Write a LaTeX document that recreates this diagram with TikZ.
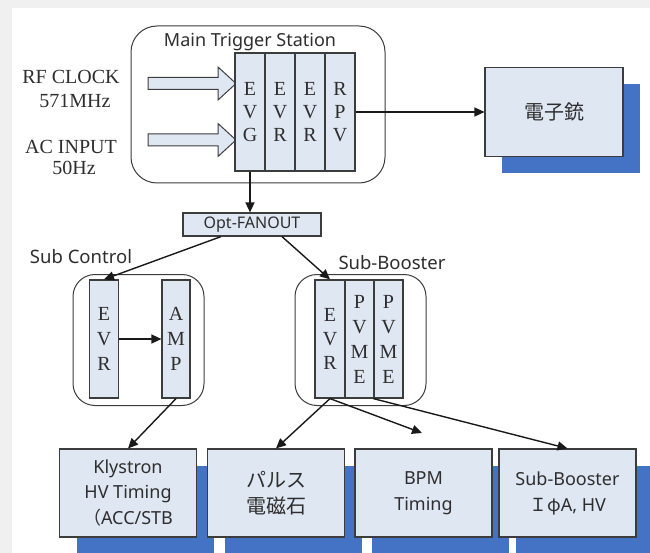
\documentclass[tikz,border=0pt]{standalone}
\usepackage{fontspec}
\setmainfont{Liberation Serif}
\newfontfamily\sansf{Noto Sans}
\newfontfamily\jpf{Noto Sans CJK JP}
\usetikzlibrary{arrows.meta,calc,shadows}
\definecolor{boxfill}{HTML}{DFE7F3}
\definecolor{shadowblue}{HTML}{4472C4}
\definecolor{edge}{HTML}{3C3C3C}
\definecolor{ink}{HTML}{2E2E2E}
\definecolor{bggrey}{HTML}{F0F0F0}
\begin{document}
\begin{tikzpicture}[x=1pt,y=-1pt,
  col/.style={draw=edge,line width=1.2pt,fill=boxfill,minimum width=30pt,inner sep=0pt,align=center,text=ink},
  grp/.style={draw=edge,line width=1pt,fill=white,inner sep=0pt},
  card/.style={draw=edge,line width=1.1pt,fill=boxfill,minimum width=137pt,minimum height=88pt,inner sep=0pt,align=center,text=ink,
    drop shadow={fill=shadowblue,opacity=1,shadow xshift=17pt,shadow yshift=-17pt}},
  lbl/.style={text=ink,inner sep=0pt},
  conn/.style={line width=1.4pt,draw=black!90,-{Triangle[length=10pt,width=9pt]}},
  blockarrow/.style={draw=edge,line width=1pt,fill=boxfill}
]
\useasboundingbox (0,0) rectangle (650,553);
\fill[bggrey] (0,0) rectangle (650,553);
\fill[white] (12,8) rectangle (650,553);

% Main trigger station
\node[grp,rounded corners=26pt,minimum width=254pt,minimum height=157pt] (mts) at (258,104.5) {};
\node[lbl,font=\sansf\fontsize{18}{20}\selectfont] (mtsl) at (250,42) {Main Trigger Station};

\draw[blockarrow] (148,77.5) -- (218,77.5) -- (218,67) -- (236,83.5) -- (218,100) -- (218,89.5) -- (148,89.5) -- cycle;
\draw[blockarrow] (148,134) -- (218,134) -- (218,123.5) -- (236,140) -- (218,156.5) -- (218,146) -- (148,146) -- cycle;

\node[col,minimum height=118pt,font=\fontsize{20}{23}\selectfont] (evg) at (250,112) {E\\V\\G};
\node[col,minimum height=118pt,font=\fontsize{20}{23}\selectfont] (evr1) at (280,112) {E\\V\\R};
\node[col,minimum height=118pt,font=\fontsize{20}{23}\selectfont] (evr2) at (310,112) {E\\V\\R};
\node[col,minimum height=118pt,font=\fontsize{20}{23}\selectfont] (rpv) at (340,112) {R\\P\\V};

\node[lbl,font=\fontsize{20}{22}\selectfont] (rfa) at (71,77) {RF CLOCK};
\node[lbl,font=\fontsize{20}{22}\selectfont] (rfb) at (75,101) {571MHz};
\node[lbl,font=\fontsize{20}{22}\selectfont] (aca) at (71,147) {AC INPUT};
\node[lbl,font=\fontsize{20}{22}\selectfont] (acb) at (74,168) {50Hz};

% electron gun
\node[card,minimum width=138pt,minimum height=89pt,font=\jpf\fontsize{20}{24}\selectfont] (gun) at (554,112) {電子銃};
\draw[conn] (rpv.east) -- (gun.west);

% fanout
\node[col,minimum width=138pt,minimum height=23pt,font=\sansf\fontsize{16}{18}\selectfont] (fan) at (252,224.5) {Opt-FANOUT};
\draw[conn] (evg.south) -- (evg.south |- fan.north);

% Sub control
\node[grp,rounded corners=22pt,minimum width=131pt,minimum height=131pt] (scg) at (138.5,340) {};
\node[lbl,font=\sansf\fontsize{18.5}{20}\selectfont] (scl) at (81,257) {Sub Control};
\node[col,minimum width=29pt,minimum height=118pt,font=\fontsize{20}{25}\selectfont] (evra) at (104,339) {E\\V\\R};
\node[col,minimum width=28pt,minimum height=118pt,font=\fontsize{20}{25}\selectfont] (amp) at (176,339) {A\\M\\P};
\draw[conn] (evra.east) -- (amp.west);

% Sub booster
\node[grp,rounded corners=22pt,minimum width=131pt,minimum height=131pt] (sbg) at (360.5,340) {};
\node[lbl,font=\sansf\fontsize{18.5}{20}\selectfont] (sbl) at (392,263) {Sub-Booster};
\node[col,minimum width=30pt,minimum height=118pt,font=\fontsize{20}{24}\selectfont] (sbevr) at (330,339) {E\\V\\R};
\node[col,minimum width=29pt,minimum height=118pt,font=\fontsize{20}{25}\selectfont] (pv1) at (359.5,339) {P\\V\\M\\E};
\node[col,minimum width=29pt,minimum height=118pt,font=\fontsize{20}{25}\selectfont] (pv2) at (388.5,339) {P\\V\\M\\E};

\coordinate (fanl) at ($(fan.south)+(-31,0)$);
\coordinate (fanr) at ($(fan.south)+(30,0)$);
\draw[conn] (fanl) -- (evra.north);
\draw[conn] (fanr) -- (sbevr.north);

% bottom cards
\node[card,font=\sansf\fontsize{18}{25.5}\selectfont] (kly) at (128,493) {Klystron\\HV Timing\\{\jpf （}ACC/STB};
\node[card,font=\jpf\fontsize{20}{26}\selectfont] (pul) at (276,493) {パルス\\電磁石};
\node[card,font=\sansf\fontsize{18}{26}\selectfont] (bpm) at (423.5,493) {BPM\\Timing};
\node[card,font=\sansf\fontsize{18}{26}\selectfont] (sbb) at (567.5,493) {Sub-Booster\\{\jpf Ｉφ}A, HV};

\coordinate (bpmend) at (422,433);
\draw[conn] (amp.south) -- (kly.north);
\draw[conn] (sbevr.south) -- (pul.north);
\draw[conn] (sbevr.south) -- (bpmend);
\draw[conn] (pv2.south west) -- (sbb.north);
\end{tikzpicture}
\end{document}
